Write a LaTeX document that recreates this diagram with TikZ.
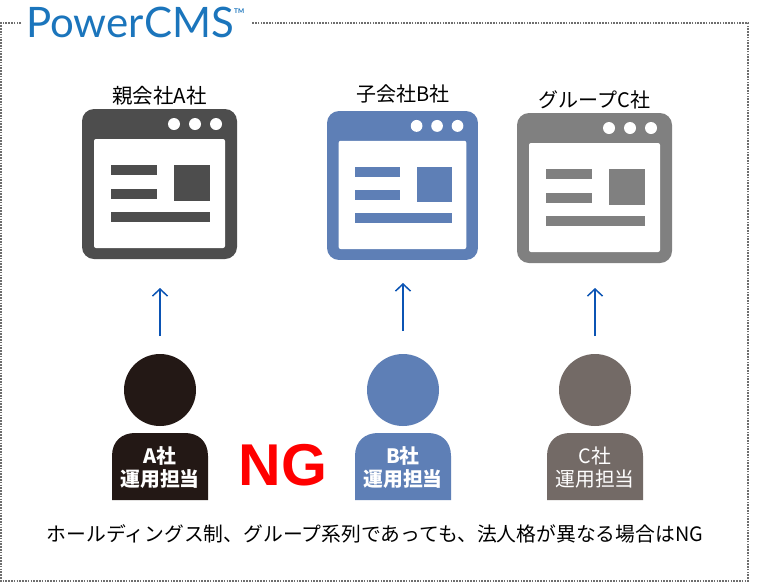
\documentclass[tikz,border=0pt]{standalone}
\usepackage{fontspec}
\setmainfont{Noto Sans CJK JP}
\newfontfamily\ngfont{Liberation Sans}
\newfontfamily\logofont{Lato}
\usetikzlibrary{arrows.meta}
\definecolor{winA}{HTML}{4D4D4D}
\definecolor{winB}{HTML}{5E7FB6}
\definecolor{winC}{HTML}{808080}
\definecolor{perA}{HTML}{231815}
\definecolor{perB}{HTML}{5E7FB6}
\definecolor{perC}{HTML}{736A66}
\definecolor{logoblue}{HTML}{1B75BC}
\definecolor{arrowblue}{HTML}{0B54B4}
\definecolor{dotgray}{HTML}{6E6E6E}
\tikzset{
  lbl/.style={inner sep=0pt,font=\fontsize{20}{22}\selectfont,text=black},
  personlbl/.style={inner sep=0pt,align=center,text=white,font=\fontsize{19.8}{22.5}\selectfont},
  head/.style={circle,inner sep=0pt,minimum size=72pt},
  upconn/.style={draw=arrowblue,line width=1.5pt,-{Straight Barb[length=7pt,width=15pt,line width=1.5pt]}},
  frameline/.style={draw=dotgray,line width=1.8pt,dash pattern=on 1.6pt off 1.2pt},
}
\newcommand{\winicon}[6]{%
  \fill[#1,rounded corners=12pt] (#2,#3) rectangle (#4,#5);
  \fill[white,rounded corners=2pt] (#2+12,#3+30) rectangle (#4-12,#5-11);
  \fill[#1] (#2+29,#3+56) rectangle ++(46,10);
  \fill[#1] (#2+29,#3+80) rectangle ++(46,9.5);
  \fill[#1] (#2+92,#3+56) rectangle ++(#6,35.5);
  \fill[#1] (#2+29,#3+103) rectangle ++(#6+63,10);
  \foreach \dx in {-63,-42,-21}{\fill[white] (#4+\dx,#3+15) circle (6);}
}
\newcommand{\bodyshape}[2]{%
  \fill[#1] (#2-48,500) -- (#2-48,456) .. controls (#2-48,441) and (#2-38,433) .. (#2-25,433)
    -- (#2+25,433) .. controls (#2+38,433) and (#2+48,441) .. (#2+48,456) -- (#2+48,500) -- cycle;
}
\begin{document}
\begin{tikzpicture}[x=1pt,y=-1pt]
\useasboundingbox[fill=white] (0,0) rectangle (770,582);
% frame
\draw[frameline] (21,23) -- (1,23) -- (1,581) -- (748,581) -- (748,23) -- (252,23);
% logo
\node (logo) [anchor=base west,inner sep=0pt,text=logoblue,font=\logofont\fontsize{42}{44}\selectfont] at (26,37) {PowerCMS};
\node (tm) [anchor=base west,inner sep=0pt,text=logoblue,font=\logofont\bfseries\fontsize{6.5}{7}\selectfont] at (234,13.5) {TM};
% windows
\winicon{winA}{82}{109}{237}{259}{36}
\begin{scope}[shift={(327,111)},xscale=.974,yscale=.993]
\winicon{winB}{0}{0}{155}{150}{36}
\end{scope}
\winicon{winC}{517}{113}{672}{263}{36}
% titles
\node (ta) [lbl,font=\fontsize{20.5}{22}\selectfont] at (159.5,96) {親会社A社};
\node (tb) [lbl] at (403,94) {子会社B社};
\node (tc) [lbl] at (594.5,100) {グループC社};
% persons
\node (ha) [head,fill=perA] at (160,390) {};
\node (hb) [head,fill=perB] at (403,390) {};
\node (hc) [head,fill=perC] at (595,390) {};
\bodyshape{perA}{160}
\bodyshape{perB}{403}
\bodyshape{perC}{595}
\node (pa) [personlbl,font=\bfseries\fontsize{19.8}{22.5}\selectfont] at (160,467.5) {A社\\運用担当};
\node (pb) [personlbl,font=\bfseries\fontsize{19.8}{22.5}\selectfont] at (403,467.5) {B社\\運用担当};
\node (pc) [personlbl] at (595,467.5) {C社\\運用担当};
% arrows
\coordinate (aS) at (160,336); \coordinate (aE) at (160,288);
\coordinate (bS) at (403,331); \coordinate (bE) at (403,283);
\coordinate (cS) at (595,336); \coordinate (cE) at (595,288);
\draw[upconn] (aS) -- (aE);
\draw[upconn] (bS) -- (bE);
\draw[upconn] (cS) -- (cE);
% NG
\node (ng) [inner sep=0pt,text=red,font=\ngfont\bfseries\fontsize{59}{62}\selectfont] at (283,465) {NG};
\node (note) [lbl,font=\fontsize{19.8}{22}\selectfont] at (375,533.5) {ホールディングス制、グループ系列であっても、法人格が異なる場合はNG};
\end{tikzpicture}
\end{document}
